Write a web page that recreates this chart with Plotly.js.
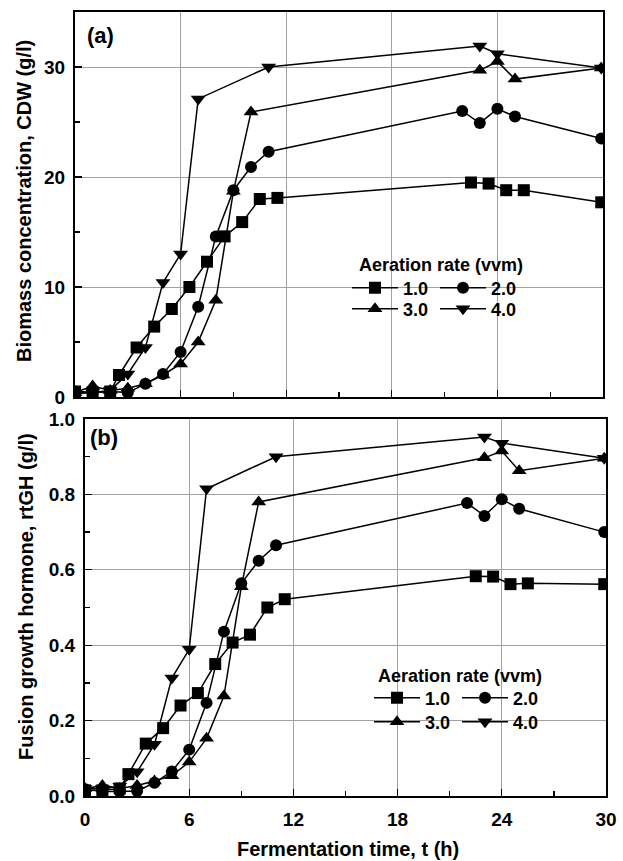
<!DOCTYPE html>
<html>
<head>
<meta charset="utf-8">
<script src="https://cdn.plot.ly/plotly-3.0.1.min.js"></script>
<style>html,body{margin:0;padding:0;background:#fff;}#chart{width:623px;height:861px;}</style>
</head>
<body>
<div id="chart"></div>
<script>
// ---------- Data ----------
const seriesNames = ["1.0", "2.0", "3.0", "4.0"];

// (a) Biomass concentration, CDW (g/l)
const a_t_10 = [0, 1, 2, 2.5, 3.5, 4.5, 5.5, 6.5, 7.5, 8.5, 9.5, 10.5, 11.5, 22.5, 23.5, 24.5, 25.5, 29.9];
const a_y_10 = [0.5, 0.4, 0.5, 2.0, 4.5, 6.4, 8.0, 10.0, 12.3, 14.6, 15.9, 18.0, 18.1, 19.5, 19.4, 18.8, 18.8, 17.7];
const a_t_20 = [0, 1, 2, 3, 4, 5, 6, 7, 8, 9, 10, 11, 22, 23, 24, 25, 29.9];
const a_y_20 = [0.5, 0.4, 0.5, 0.4, 1.2, 2.1, 4.1, 8.2, 14.6, 18.8, 20.9, 22.3, 26.0, 24.9, 26.2, 25.5, 23.5];
const a_t_30 = [0, 1, 2, 3, 4, 5, 6, 7, 8, 9, 10, 23, 24, 25, 29.9];
const a_y_30 = [0.4, 1.0, 0.6, 0.8, 1.2, 2.0, 3.0, 5.0, 8.8, 18.7, 25.9, 29.7, 30.5, 28.9, 29.9];
const a_t_40 = [0, 1, 2, 3, 4, 5, 6, 7, 11, 23, 24, 29.9];
const a_y_40 = [0.3, 0.4, 0.6, 2.1, 4.5, 10.4, 13.0, 27.1, 30.0, 31.9, 31.2, 29.9];

// (b) Fusion growth hormone, rtGH (g/l)
const b_t_10 = [0, 1, 2, 2.5, 3.5, 4.5, 5.5, 6.5, 7.5, 8.5, 9.5, 10.5, 11.5, 22.5, 23.5, 24.5, 25.5, 29.9];
const b_y_10 = [0.015, 0.015, 0.02, 0.058, 0.139, 0.18, 0.24, 0.273, 0.35, 0.407, 0.428, 0.5, 0.522, 0.583, 0.582, 0.562, 0.564, 0.562];
const b_t_20 = [0, 1, 2, 3, 4, 5, 6, 7, 8, 9, 10, 11, 22, 23, 24, 25, 29.9];
const b_y_20 = [0.018, 0.012, 0.012, 0.013, 0.035, 0.065, 0.123, 0.247, 0.436, 0.564, 0.624, 0.665, 0.777, 0.743, 0.787, 0.762, 0.70];
const b_t_30 = [0, 1, 2, 3, 4, 5, 6, 7, 8, 9, 10, 23, 24, 25, 29.9];
const b_y_30 = [0.02, 0.028, 0.02, 0.028, 0.04, 0.054, 0.09, 0.153, 0.265, 0.555, 0.78, 0.897, 0.915, 0.863, 0.896];
const b_t_40 = [0, 1, 2, 3, 4, 5, 6, 7, 11, 23, 24, 29.9];
const b_y_40 = [0.02, 0.02, 0.026, 0.064, 0.137, 0.313, 0.389, 0.815, 0.90, 0.952, 0.936, 0.896];

const xTickVals = [0, 6, 12, 18, 24, 30];
const xTickText = ["0", "6", "12", "18", "24", "30"];
const aTickVals = [0, 10, 20, 30];
const bTickVals = [0, 0.2, 0.4, 0.6, 0.8, 1.0];
const bTickText = ["0.0", "0.2", "0.4", "0.6", "0.8", "1.0"];

const legendTitle = "Aeration rate (vvm)";
const yTitleA = "Biomass concentration, CDW (g/l)";
const yTitleB = "Fusion growth hormone, rtGH (g/l)";
const xTitle = "Fermentation time, t (h)";

// ---------- Styling ----------
const W = 623, H = 861;
const FONT = "Liberation Sans, Arial, sans-serif";
const px = v => v / W;
const py = v => 1 - v / H;
const symbols = ["square", "circle", "triangle-up", "triangle-down"];
const msize = [12, 12, 13, 13];

function tr(t, y, i, xa, ya, leg, show) {
  return {
    type: "scatter", mode: "lines+markers", x: t, y: y,
    name: seriesNames[i], xaxis: xa, yaxis: ya, legend: leg, showlegend: show,
    line: {color: "#000", width: 1.5},
    marker: {symbol: symbols[i], size: msize[i], color: "#000", line: {width: 0}},
    hoverinfo: "x+y"
  };
}

const data = [
  tr(a_t_10, a_y_10, 0, "x", "y", "legend", true),
  tr(a_t_20, a_y_20, 1, "x", "y", "legend", true),
  tr(a_t_30, a_y_30, 2, "x", "y", "legend2", true),
  tr(a_t_40, a_y_40, 3, "x", "y", "legend2", true),
  tr(b_t_10, b_y_10, 0, "x2", "y2", "legend3", true),
  tr(b_t_20, b_y_20, 1, "x2", "y2", "legend3", true),
  tr(b_t_30, b_y_30, 2, "x2", "y2", "legend4", true),
  tr(b_t_40, b_y_40, 3, "x2", "y2", "legend4", true)
];

const tickFont = {family: FONT, size: 19, color: "#000", weight: "bold"};
const common = {
  showline: true, linecolor: "#000", linewidth: 2, mirror: true,
  ticks: "inside", ticklen: 7, tickwidth: 1.3, tickcolor: "#000",
  showgrid: true, gridcolor: "#a0a0a0", gridwidth: 1, zeroline: false,
  tickfont: tickFont, fixedrange: true
};

function legendDef(x, y) {
  return {
    x: x, y: y, xanchor: "left", yanchor: "middle", orientation: "h",
    bgcolor: "rgba(0,0,0,0)", borderwidth: 0, itemwidth: 46, entrywidth: 27,
    font: {family: FONT, size: 18, color: "#000", weight: "bold"},
    traceorder: "normal", itemclick: false, itemdoubleclick: false
  };
}

const layout = {
  width: W, height: H,
  margin: {l: 0, r: 0, t: 0, b: 0},
  paper_bgcolor: "#fff", plot_bgcolor: "#fff",
  font: {family: FONT, color: "#000"},
  showlegend: true,
  xaxis: Object.assign({}, common, {
    domain: [px(75), px(603)], anchor: "y", range: [0, 30],
    tickvals: xTickVals, showticklabels: false,
    minor: {dtick: 3, tick0: 0, ticks: "inside", ticklen: 5, tickcolor: "#000", showgrid: false}
  }),
  yaxis: Object.assign({}, common, {
    domain: [py(397), py(12)], anchor: "x", range: [0, 35],
    tickvals: aTickVals, ticktext: aTickVals.map(String), ticklabelstandoff: 4,
    minor: {dtick: 5, tick0: 0, ticks: "inside", ticklen: 5, tickcolor: "#000", showgrid: false}
  }),
  xaxis2: Object.assign({}, common, {
    domain: [px(85), px(606)], anchor: "y2", range: [0, 30],
    tickvals: xTickVals, ticktext: xTickText, ticklabelstandoff: 5,
    minor: {dtick: 3, tick0: 0, ticks: "inside", ticklen: 5, tickcolor: "#000", showgrid: false}
  }),
  yaxis2: Object.assign({}, common, {
    domain: [py(796), py(419)], anchor: "x2", range: [0, 1],
    tickvals: bTickVals, ticktext: bTickText, ticklabelstandoff: 4,
    minor: {dtick: 0.1, tick0: 0, ticks: "inside", ticklen: 5, tickcolor: "#000", showgrid: false}
  }),
  legend: legendDef(px(347), py(288)),
  legend2: legendDef(px(347), py(309)),
  legend3: legendDef(px(369), py(698)),
  legend4: legendDef(px(369), py(722)),
  annotations: [
    {text: "(a)", x: px(100), y: py(36), xref: "paper", yref: "paper", showarrow: false,
     xanchor: "center", yanchor: "middle", font: {family: FONT, size: 22, color: "#000", weight: "bold"}},
    {text: "(b)", x: px(104), y: py(437), xref: "paper", yref: "paper", showarrow: false,
     xanchor: "center", yanchor: "middle", font: {family: FONT, size: 22, color: "#000", weight: "bold"}},
    {text: legendTitle, x: px(441), y: py(265), xref: "paper", yref: "paper", showarrow: false,
     xanchor: "center", yanchor: "middle", font: {family: FONT, size: 18, color: "#000", weight: "bold"}},
    {text: legendTitle, x: px(460), y: py(676), xref: "paper", yref: "paper", showarrow: false,
     xanchor: "center", yanchor: "middle", font: {family: FONT, size: 18, color: "#000", weight: "bold"}},
    {text: yTitleA, x: px(24), y: py(201), xref: "paper", yref: "paper", showarrow: false, textangle: -90,
     xanchor: "center", yanchor: "middle", font: {family: FONT, size: 20, color: "#000", weight: "bold"}},
    {text: yTitleB, x: px(26), y: py(597), xref: "paper", yref: "paper", showarrow: false, textangle: -90,
     xanchor: "center", yanchor: "middle", font: {family: FONT, size: 20, color: "#000", weight: "bold"}},
    {text: xTitle, x: px(348), y: py(849), xref: "paper", yref: "paper", showarrow: false,
     xanchor: "center", yanchor: "middle", font: {family: FONT, size: 20, color: "#000", weight: "bold"}}
  ]
};

Plotly.newPlot("chart", data, layout, {staticPlot: true, displayModeBar: false});
</script>
</body>
</html>
